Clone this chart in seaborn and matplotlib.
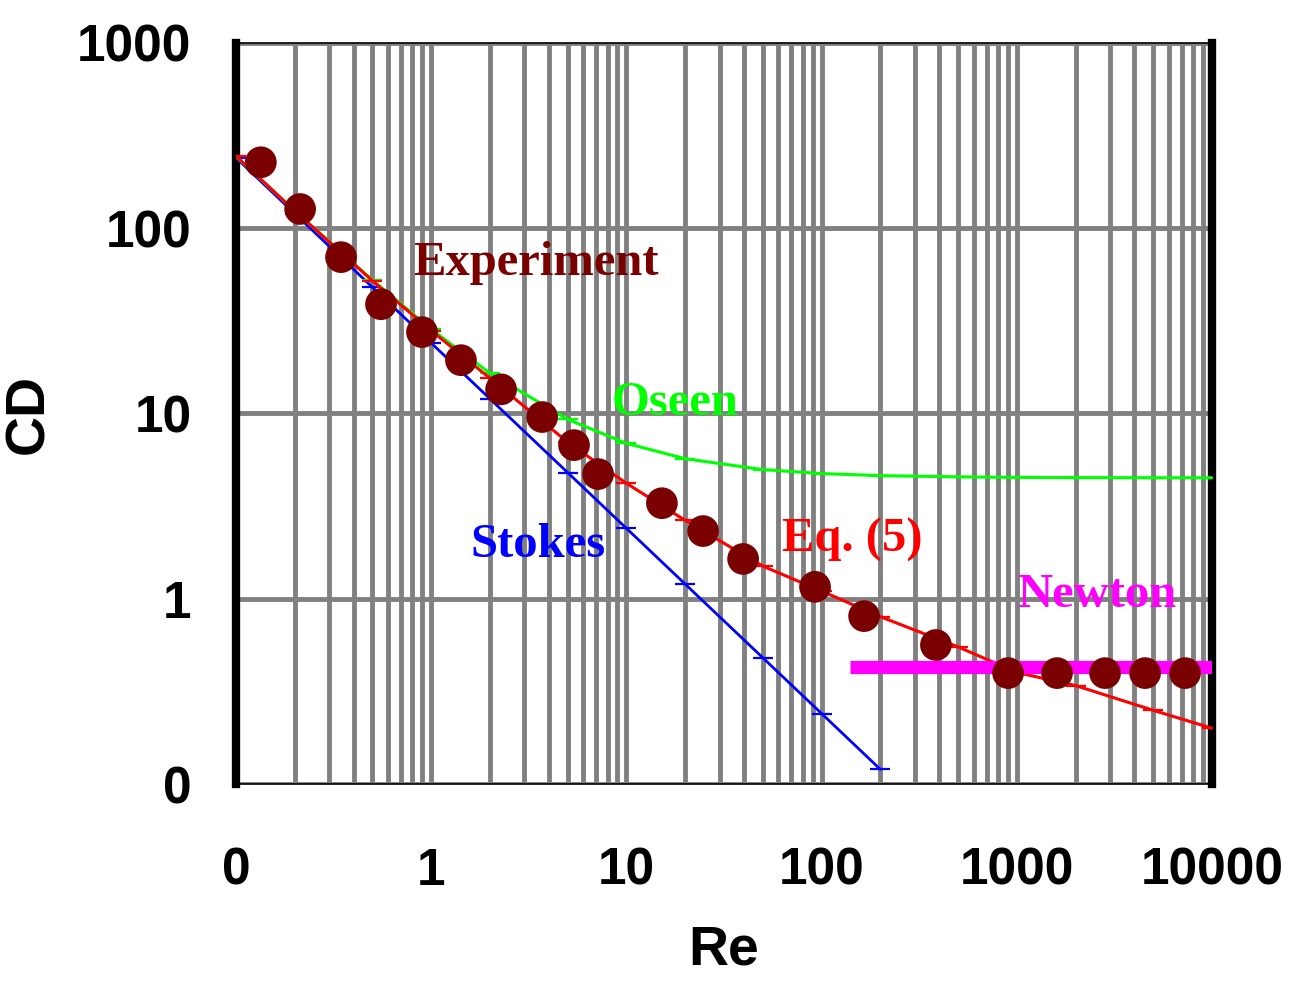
import numpy as np
import pandas as pd
import seaborn as sns
import matplotlib.pyplot as plt
from matplotlib.ticker import FixedLocator, FixedFormatter, LogLocator, NullFormatter

# experimental drag coefficients of a sphere
re_exp = [0.134, 0.213, 0.345, 0.553, 0.897, 1.42, 2.28, 3.70, 5.39, 7.16, 15.2,
          24.7, 39.6, 92.5, 165, 385, 902, 1607, 2831, 4540, 7275]
cd_exp = [227, 127, 69.8, 38.9, 27.5, 19.4, 13.5, 9.57, 6.75, 4.71, 3.28,
          2.32, 1.64, 1.16, 0.806, 0.563, 0.397, 0.397, 0.397, 0.397, 0.397]

# Stokes law
re_stokes = [0.1, 0.2, 0.5, 1, 2, 5, 10, 20, 50, 100, 200]
cd_stokes = [240, 120, 48, 24, 12, 4.8, 2.4, 1.2, 0.48, 0.24, 0.12]

# Oseen correction
re_oseen = [0.1, 0.2, 0.5, 1, 2, 5, 10, 20, 50, 100, 200, 500, 1000, 2000, 5000, 10000]
cd_oseen = [244, 124, 52.5, 28.5, 16.5, 9.3, 6.9, 5.7, 4.98, 4.74, 4.62, 4.55, 4.52, 4.51, 4.50, 4.50]

# Eq. (5)
re_eq5 = [0.1, 0.2, 0.5, 1, 2, 5, 10, 20, 50, 100, 200, 500, 1000, 2000, 5000, 10000]
cd_eq5 = [245, 124, 52, 28, 15.5, 7.0, 4.2, 2.65, 1.5, 1.1, 0.80, 0.55, 0.40, 0.34, 0.25, 0.20]

# Newton regime
re_newton = [140, 10000]
cd_newton = [0.43, 0.43]

x_ticks = [0.1, 1, 10, 100, 1000, 10000]
x_ticklabels = ["0", "1", "10", "100", "1000", "10000"]
y_ticks = [0.1, 1, 10, 100, 1000]
y_ticklabels = ["0", "1", "10", "100", "1000"]

sns.set_style("white")
plt.rcParams['font.family'] = ['Liberation Sans', 'DejaVu Sans']
plt.rcParams['font.weight'] = 'bold'
plt.rcParams['text.color'] = 'black'
plt.rcParams['axes.labelcolor'] = 'black'
plt.rcParams['axes.labelweight'] = 'bold'

GRID = "#808080"

fig = plt.figure(figsize=(12.89, 9.83), dpi=100)
ax = fig.add_axes([0.1831, 0.2024, 0.7572, 0.7539])
ax.set_xscale("log")
ax.set_yscale("log")

sns.lineplot(x=re_stokes, y=cd_stokes, ax=ax, color="#0000FF", lw=2, marker="_",
             markersize=14, markeredgewidth=1.6, markeredgecolor="#0000FF", zorder=3)
sns.lineplot(x=re_oseen, y=cd_oseen, ax=ax, color="#00FF00", lw=2.2, marker="_",
             markersize=14, markeredgewidth=1.6, markeredgecolor="#00FF00", zorder=3)
sns.lineplot(x=re_eq5, y=cd_eq5, ax=ax, color="#FF0000", lw=2.2, marker="_",
             markersize=14, markeredgewidth=1.6, markeredgecolor="#FF0000", zorder=4)
sns.lineplot(x=re_newton, y=cd_newton, ax=ax, color="#FF00FF", lw=9.5, zorder=5,
             solid_capstyle="butt")
sns.scatterplot(x=re_exp, y=cd_exp, ax=ax, color="#7A0000", s=520, edgecolor="none", zorder=6)

ax.set_xlim(0.1, 10000)
ax.set_ylim(0.1, 1000)

ax.xaxis.set_major_locator(FixedLocator(x_ticks))
ax.xaxis.set_major_formatter(FixedFormatter(x_ticklabels))
ax.yaxis.set_major_locator(FixedLocator(y_ticks))
ax.yaxis.set_major_formatter(FixedFormatter(y_ticklabels))
ax.xaxis.set_minor_locator(LogLocator(base=10, subs=np.arange(2, 10), numticks=20))
ax.yaxis.set_minor_locator(LogLocator(base=10, subs=np.arange(2, 10), numticks=20))
ax.xaxis.set_minor_formatter(NullFormatter())
ax.yaxis.set_minor_formatter(NullFormatter())

ax.grid(which="major", axis="both", color=GRID, lw=3.5, zorder=1)
ax.grid(which="minor", axis="x", color=GRID, lw=3.5, zorder=1)
ax.set_axisbelow(True)

ax.tick_params(axis="x", which="major", direction="inout", length=22, width=3.5, color=GRID,
               pad=34, labelsize=37, labelcolor="black")
ax.tick_params(axis="x", which="minor", direction="out", length=8, width=3.5, color=GRID)
ax.tick_params(axis="y", which="major", direction="out", length=14, width=3.5, color=GRID,
               pad=18, labelsize=37, labelcolor="black")
ax.tick_params(axis="y", which="minor", direction="inout", length=18, width=3, color=GRID)

for side in ["left", "right"]:
    ax.spines[side].set_color("black")
    ax.spines[side].set_linewidth(6)
for side in ["top", "bottom"]:
    ax.spines[side].set_color("black")
    ax.spines[side].set_linewidth(1.2)

ax.set_xlabel("Re", fontsize=40)
ax.set_ylabel("CD", fontsize=40)
ax.xaxis.set_label_coords(0.5, -0.19)
ax.yaxis.set_label_coords(-0.185, 0.5)

serif = dict(family="Liberation Serif", weight="bold", fontsize=35, ha="center", va="center")
ax.text(3.45, 65, "Experiment", color="#7A0000", **serif)
ax.text(17.7, 11.4, "Oseen", color="#00FF00", **serif)
ax.text(3.52, 1.95, "Stokes", color="#0000FF", **serif)
ax.text(143, 2.07, "Eq. (5)", color="#FF0000", **serif)
ax.text(2578, 1.05, "Newton", color="#FF00FF", **serif)

fig.savefig("out.png", dpi=100)
